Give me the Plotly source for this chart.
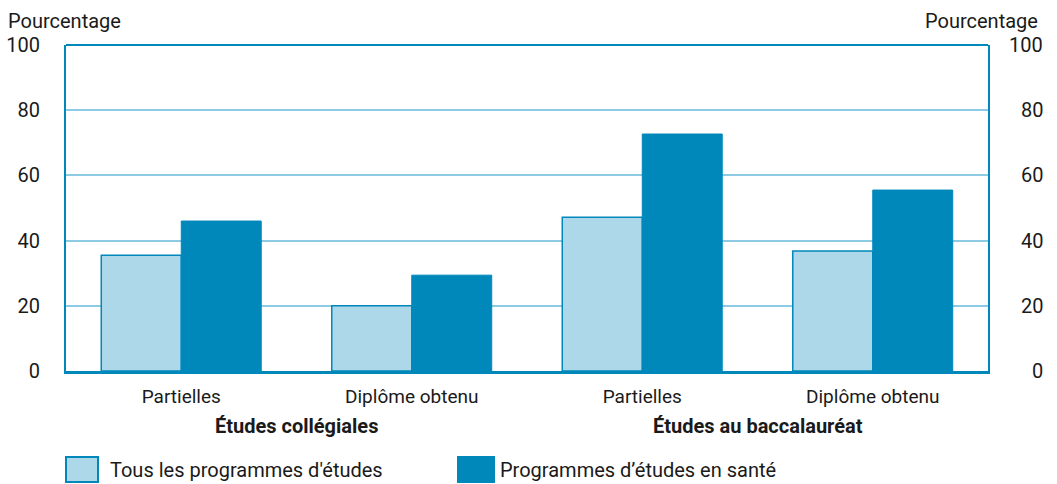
import plotly.graph_objects as go

subcats = ["Partielles", "Diplôme obtenu", "Partielles", "Diplôme obtenu"]
groups = ["Études collégiales", "Études au baccalauréat"]
series_names = ["Tous les programmes d'études", "Programmes d’études en santé"]
tous = [35.5, 20.0, 47.2, 36.8]
sante = [46.0, 29.4, 72.7, 55.5]
yticks = [0, 20, 40, 60, 80, 100]

BLUE = "#0088bb"
LIGHT = "#add8ea"
GRID = "#8ccbe3"
FONT = "Roboto"
TXT = "#1a1a1a"
x = list(range(len(subcats)))
PW, PH = 922, 326  # plot area size in px

fig = go.Figure()
fig.add_bar(x=x, y=tous, name=series_names[0], marker=dict(color=LIGHT, line=dict(color=BLUE, width=1.5)),
            showlegend=False)
fig.add_bar(x=x, y=sante, name=series_names[1], marker=dict(color=BLUE, line=dict(color=BLUE, width=1)),
            showlegend=False)

fig.update_layout(
    width=1057, height=484, autosize=False,
    margin=dict(l=66, r=69, t=45, b=113, autoexpand=False),
    paper_bgcolor="white", plot_bgcolor="white",
    barmode="group", bargap=0.306, bargroupgap=0,
    font=dict(family=FONT, size=19, color=TXT),
    xaxis=dict(tickvals=x, ticktext=subcats, range=[-0.5, 3.5], showline=True, linewidth=3,
               linecolor=BLUE, ticks="", showgrid=False, zeroline=False, automargin=False,
               tickfont=dict(size=19), ticklabelstandoff=6),
    yaxis=dict(range=[0, 100], tickvals=yticks, showgrid=True, gridcolor=GRID, gridwidth=2,
               showline=True, linecolor=BLUE, linewidth=2, mirror=True, zeroline=False, ticks="",
               automargin=False, ticklabelstandoff=20, tickfont=dict(size=20)),
)

# top border
fig.add_shape(type="line", xref="paper", yref="paper", x0=0, x1=1, y0=1, y1=1,
              line=dict(color=BLUE, width=2))

# right-hand tick labels (right-aligned, as in the reference)
for v in yticks:
    fig.add_annotation(text=str(v), xref="paper", yref="y", x=1 + 57 / PW, y=v, xanchor="right",
                       yanchor="middle", showarrow=False, font=dict(size=20))

# axis titles
fig.add_annotation(text="Pourcentage", xref="paper", yref="paper", x=-60 / PW, y=1, yshift=24,
                   xanchor="left", yanchor="middle", showarrow=False, font=dict(size=20))
fig.add_annotation(text="Pourcentage", xref="paper", yref="paper", x=1 + 52 / PW, y=1, yshift=24,
                   xanchor="right", yanchor="middle", showarrow=False, font=dict(size=20))

# group labels
for i, g in enumerate(groups):
    fig.add_annotation(text="<b>" + g + "</b>", xref="x", yref="paper", x=2 * i + 0.5, y=0, yshift=-55,
                       yanchor="middle", showarrow=False, font=dict(size=20))

# legend
leg = [(0, 32, 108, LIGHT, series_names[0]), (392, 428, 498, BLUE, series_names[1])]
for x0, x1, tx, col, name in leg:
    fig.add_shape(type="rect", xref="paper", yref="paper", x0=x0 / PW, x1=x1 / PW,
                  y0=-(482 - 371) / PH, y1=-(457 - 371) / PH,
                  line=dict(color=BLUE, width=2), fillcolor=col)
    fig.add_annotation(text=name, xref="paper", yref="paper", x=(tx - 66) / PW,
                       y=-(470 - 371) / PH, xanchor="left", yanchor="middle", showarrow=False,
                       font=dict(size=20))

fig.write_html("out.html", config={"displayModeBar": False},
               post_script="document.body.style.margin='0';document.body.style.padding='0';")
